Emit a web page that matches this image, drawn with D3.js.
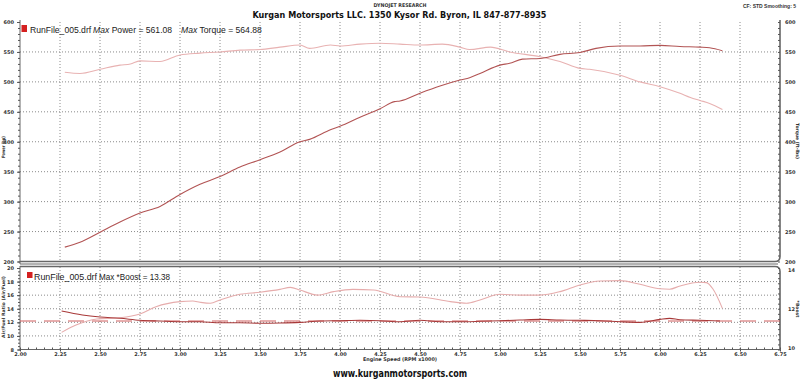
<!DOCTYPE html>
<html><head><meta charset="utf-8">
<script src="https://cdn.jsdelivr.net/npm/d3@7"></script>
<style>body{margin:0;background:#fff}svg{display:block}</style>
</head><body>
<svg id="c" width="800" height="379"></svg>
<script>
// ---- data ----
const xTicks = [2.00,2.25,2.50,2.75,3.00,3.25,3.50,3.75,4.00,4.25,4.50,4.75,5.00,5.25,5.50,5.75,6.00,6.25,6.50,6.75];
const powerTicks = [200,250,300,350,400,450,500,550,600];
const torqueTicks = [200,250,300,350,400,450,500,550,600];
const afrTicks = [8,10,12,14,16,18,20];
const boostTicks = [10,12,14];

const powerRpm = [2.28,2.375,2.5,2.625,2.75,2.875,3.0,3.125,3.25,3.375,3.5,3.625,3.75,3.81,3.94,4.0,4.125,4.25,4.34,4.375,4.5,4.625,4.75,4.81,4.875,5.0,5.06,5.14,5.25,5.375,5.5,5.6,5.75,5.875,6.0,6.125,6.25,6.31,6.39];
const powerHp = [224,232,249,266,281,292,312,329,342,358,370,383,400,404,420,426,441,455,467,468,481,493,503,507,514,528,531,538,539,546,549,556,560,560,561,559,558,557,552];

const torqueRpm = [2.28,2.375,2.5,2.625,2.69,2.75,2.875,3.0,3.125,3.25,3.375,3.5,3.625,3.75,3.81,3.94,4.0,4.125,4.25,4.375,4.5,4.64,4.75,4.81,4.94,5.06,5.25,5.375,5.5,5.56,5.75,5.875,6.0,6.125,6.19,6.25,6.31,6.39];
const torqueFt = [516,514,521,528,530,535,534,545,548,550,553,554,558,561.5,556,561.5,560,563,564.5,563,561.5,563,558,554,558,550,542,534,522.5,521,511,500,492,481,474,469,464,454];

const afrRpm = [2.26,2.39,2.5,2.625,2.75,2.875,3.0,3.125,3.25,3.375,3.5,3.625,3.75,3.875,4.0,4.125,4.25,4.375,4.5,4.625,4.75,4.875,5.0,5.125,5.25,5.375,5.5,5.625,5.75,5.875,6.0,6.06,6.125,6.25,6.375];
const afrVal = [13.67,13.08,12.78,12.59,12.30,12.19,12.09,12.09,11.94,11.94,11.86,11.9,12.0,12.19,12.24,12.30,12.24,12.09,12.30,12.09,12.09,12.15,12.24,12.34,12.44,12.34,12.3,12.24,12.09,12.0,12.44,12.59,12.39,12.3,12.19];

const boostRpm = [2.26,2.35,2.48,2.625,2.75,2.85,3.0,3.08,3.125,3.19,3.25,3.375,3.5,3.625,3.69,3.75,3.86,3.96,4.08,4.21,4.375,4.5,4.69,4.79,4.875,5.0,5.125,5.25,5.375,5.5,5.625,5.75,5.875,6.0,6.06,6.125,6.25,6.29,6.33,6.39];
const boostVal = [10.84,11.2,11.5,11.56,11.74,12.1,12.35,12.38,12.32,12.27,12.43,12.71,12.81,12.95,13.05,12.92,12.67,12.84,12.95,12.92,12.59,12.58,12.35,12.27,12.43,12.71,12.67,12.67,12.84,13.17,13.36,13.38,13.2,12.98,12.96,13.12,13.3,13.28,12.98,12.02];

const afrTarget = [12.2];
const minorX = d3.range(2.0, 6.751, 0.05);

// ---- scales ----
const svg = d3.select('#c');
const x = d3.scaleLinear().domain([2, 6.75]).range([20, 780]);
const yTop = d3.scaleLinear().domain([200, 600]).range([261.5, 22]);
const yAfr = d3.scaleLinear().domain([8, 20]).range([349.5, 268]);
const yBoost = d3.scaleLinear().domain([10, 14]).range([349.5, 268]);

const gridCol = '#8a8a8a';
// ---- grid ----
const g = svg.append('g');
xTicks.filter(t => t > 2 && t < 6.75).forEach(t => {
  g.append('line').attr('x1', x(t)).attr('x2', x(t)).attr('y1', 22).attr('y2', 261)
   .attr('stroke', gridCol).attr('stroke-dasharray', '1,2');
  g.append('line').attr('x1', x(t)).attr('x2', x(t)).attr('y1', 267).attr('y2', 349)
   .attr('stroke', gridCol).attr('stroke-dasharray', '1,2');
});
powerTicks.filter(t => t > 200 && t < 600).forEach(t => {
  g.append('line').attr('x1', 20).attr('x2', 780).attr('y1', yTop(t)).attr('y2', yTop(t))
   .attr('stroke', gridCol).attr('stroke-dasharray', '1,2');
});
afrTicks.filter(t => t > 8 && t < 20).forEach(t => {
  g.append('line').attr('x1', 20).attr('x2', 780).attr('y1', yAfr(t)).attr('y2', yAfr(t))
   .attr('stroke', gridCol).attr('stroke-dasharray', '1,2');
});

// ---- frames ----
const frameCol = '#666';
svg.append('line').attr('x1', 20).attr('x2', 20).attr('y1', 20).attr('y2', 264).attr('stroke', frameCol);
svg.append('path').attr('d', `M20,261.5 H775 Q780,261.5 780,256.5 V20`).attr('fill', 'none').attr('stroke', frameCol).attr('stroke-width', 1.6);
svg.append('line').attr('x1', 20).attr('x2', 778).attr('y1', 264).attr('y2', 264).attr('stroke', frameCol);
svg.append('path').attr('d', `M20,266.5 H775 Q780,266.5 780,271.5 V350`).attr('fill', 'none').attr('stroke', frameCol).attr('stroke-width', 1.6);
svg.append('line').attr('x1', 20).attr('x2', 20).attr('y1', 266).attr('y2', 350).attr('stroke', frameCol);
svg.append('line').attr('x1', 20).attr('x2', 780).attr('y1', 349.5).attr('y2', 349.5).attr('stroke', frameCol);

// ---- axes ----
function styleAxis(sel) {
  sel.select('.domain').remove();
  sel.selectAll('line').attr('stroke', '#555');
  sel.selectAll('text').attr('font-family', 'DejaVu Sans').attr('font-size', 5).attr('font-weight', 'bold').attr('fill', '#333');
}
// top left
svg.append('g').attr('transform', 'translate(20,0)')
  .call(d3.axisLeft(yTop).tickValues(d3.range(200, 601, 10)).tickSize(2).tickFormat(''))
  .call(styleAxis);
svg.append('g').attr('transform', 'translate(20,0)')
  .call(d3.axisLeft(yTop).tickValues(powerTicks).tickSize(3).tickPadding(3).tickFormat(d3.format('d')))
  .call(styleAxis);
// top right
svg.append('g').attr('transform', 'translate(780,0)')
  .call(d3.axisLeft(yTop).tickValues(d3.range(200, 601, 10)).tickSize(2).tickFormat(''))
  .call(styleAxis);
svg.append('g').attr('transform', 'translate(780,0)')
  .call(d3.axisRight(yTop).tickValues(torqueTicks).tickSize(0).tickPadding(5).tickFormat(d3.format('d')))
  .call(styleAxis);
// bottom left
svg.append('g').attr('transform', 'translate(20,0)')
  .call(d3.axisLeft(yAfr).tickValues(d3.range(8, 20.01, 0.5)).tickSize(2).tickFormat(''))
  .call(styleAxis);
svg.append('g').attr('transform', 'translate(20,0)')
  .call(d3.axisLeft(yAfr).tickValues(afrTicks).tickSize(3).tickPadding(3).tickFormat(d3.format('d')))
  .call(styleAxis);
// bottom right
svg.append('g').attr('transform', 'translate(780,0)')
  .call(d3.axisLeft(yBoost).tickValues(d3.range(10, 14.01, 0.25)).tickSize(2).tickFormat(''))
  .call(styleAxis);
const bAx = svg.append('g').attr('transform', 'translate(780,0)')
  .call(d3.axisRight(yBoost).tickValues(boostTicks).tickSize(0).tickPadding(8).tickFormat(d3.format('d')))
  .call(styleAxis);
bAx.selectAll('text').attr('dy', d => d === 10 ? '-0.1em' : (d === 14 ? '0.75em' : '0.32em'));
// x axis
svg.append('g').attr('transform', 'translate(0,349.5)')
  .call(d3.axisTop(x).tickValues(minorX).tickSize(2).tickFormat(''))
  .call(styleAxis);
svg.append('g').attr('transform', 'translate(0,349.5)')
  .call(d3.axisBottom(x).tickValues(xTicks).tickSize(2).tickPadding(1).tickFormat(d3.format('.2f')))
  .call(styleAxis);

// ---- lines ----
const lineTop = (xs, ys) => d3.line().x((d, i) => x(xs[i])).y(d => yTop(d)).curve(d3.curveMonotoneX)(ys);
svg.append('path').attr('d', lineTop(torqueRpm, torqueFt)).attr('fill', 'none').attr('stroke', '#e8b2b2').attr('stroke-width', 1.1);
svg.append('path').attr('d', lineTop(powerRpm, powerHp)).attr('fill', 'none').attr('stroke', '#b25454').attr('stroke-width', 1.1);

svg.append('line').attr('x1', x(2.0)).attr('x2', x(6.75)).attr('y1', yAfr(afrTarget[0])).attr('y2', yAfr(afrTarget[0]))
  .attr('stroke', '#c94444').attr('stroke-width', 1.2).attr('stroke-dasharray', '16,8').attr('stroke-opacity', 0.85);
svg.append('path').attr('d', d3.line().x((d, i) => x(boostRpm[i])).y(d => yBoost(d)).curve(d3.curveMonotoneX)(boostVal))
  .attr('fill', 'none').attr('stroke', '#e6acac').attr('stroke-width', 1.1);
svg.append('path').attr('d', d3.line().x((d, i) => x(afrRpm[i])).y(d => yAfr(d)).curve(d3.curveMonotoneX)(afrVal))
  .attr('fill', 'none').attr('stroke', '#a83838').attr('stroke-width', 1.1);

// ---- legends ----
const lf = 'Liberation Sans';
svg.append('rect').attr('x', 21.5).attr('y', 25).attr('width', 5.5).attr('height', 7).attr('fill', '#d42020');
svg.append('text').attr('x', 30).attr('y', 33).attr('font-family', lf).attr('font-size', 8.6).attr('fill', '#222').text('RunFile_005.drf');
svg.append('text').attr('x', 93).attr('y', 33).attr('font-family', lf).attr('font-size', 8.6).attr('fill', '#222')
  .html('<tspan font-style="italic">Max</tspan> Power = 561.08');
svg.append('text').attr('x', 181).attr('y', 33).attr('font-family', lf).attr('font-size', 8.6).attr('fill', '#222')
  .html('<tspan font-style="italic">Max</tspan> Torque = 564.88');

svg.append('rect').attr('x', 27).attr('y', 272).attr('width', 5.5).attr('height', 6).attr('fill', '#d42020');
svg.append('text').attr('x', 34).attr('y', 279.5).attr('font-family', lf).attr('font-size', 9).attr('fill', '#222')
  .attr('textLength', 63).attr('lengthAdjust', 'spacingAndGlyphs').text('RunFile_005.drf');
svg.append('text').attr('x', 99).attr('y', 279.5).attr('font-family', lf).attr('font-size', 9).attr('fill', '#222')
  .attr('textLength', 71).attr('lengthAdjust', 'spacingAndGlyphs').text('Max *Boost = 13.38');

// ---- titles ----
const bf = 'DejaVu Sans';
svg.append('text').attr('x', 400).attr('y', 6.5).attr('text-anchor', 'middle').attr('font-family', bf).attr('font-size', 5).attr('font-weight', 'bold').attr('fill', '#333')
  .attr('textLength', 53).attr('lengthAdjust', 'spacingAndGlyphs').text('DYNOJET RESEARCH');
svg.append('text').attr('x', 399.5).attr('y', 17.5).attr('text-anchor', 'middle').attr('font-family', bf).attr('font-size', 9).attr('font-weight', 'bold').attr('fill', '#111')
  .attr('textLength', 294).attr('lengthAdjust', 'spacingAndGlyphs').text('Kurgan Motorsports LLC. 1350 Kysor Rd. Byron, IL 847-877-8935');
svg.append('text').attr('x', 796).attr('y', 7.5).attr('text-anchor', 'end').attr('font-family', 'Liberation Sans').attr('font-size', 5).attr('font-weight', 'bold').attr('fill', '#333')
  .text('CF: STD  Smoothing: 5');
svg.append('text').attr('x', 400).attr('y', 377).attr('text-anchor', 'middle').attr('font-family', bf).attr('font-size', 10).attr('font-weight', 'bold').attr('fill', '#111')
  .attr('textLength', 134).attr('lengthAdjust', 'spacingAndGlyphs').text('www.kurganmotorsports.com');
svg.append('text').attr('x', 400).attr('y', 361).attr('text-anchor', 'middle').attr('font-family', bf).attr('font-size', 5).attr('font-weight', 'bold').attr('fill', '#333')
  .attr('textLength', 74).attr('lengthAdjust', 'spacingAndGlyphs').text('Engine Speed (RPM x1000)');

function vlabel(txt, cx, cy, rot, len) {
  svg.append('text').attr('transform', `translate(${cx},${cy}) rotate(${rot})`).attr('text-anchor', 'middle')
    .attr('font-family', bf).attr('font-size', 4.5).attr('font-weight', 'bold').attr('fill', '#333')
    .attr('textLength', len).attr('lengthAdjust', 'spacingAndGlyphs').text(txt);
}
vlabel('Power (hp)', 4.5, 147, -90, 22);
vlabel('Torque (ft-lbs)', 796, 141, 90, 36);
vlabel('Air/Fuel Ratio (Air/Fuel)', 4.5, 307, -90, 62);
vlabel('*Boost', 796, 309, 90, 17);
</script>
</body></html>
